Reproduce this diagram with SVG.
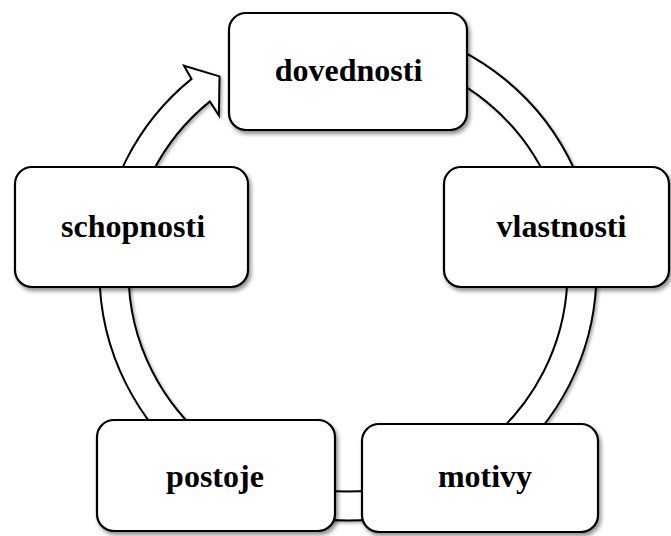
<svg xmlns="http://www.w3.org/2000/svg" width="671" height="536" viewBox="0 0 671 536">
  <defs>
    <filter id="shadow" x="-10%" y="-10%" width="125%" height="130%">
      <feGaussianBlur in="SourceAlpha" stdDeviation="2"/>
      <feOffset dx="2" dy="3" result="off"/>
      <feComponentTransfer><feFuncA type="linear" slope="0.45"/></feComponentTransfer>
      <feMerge><feMergeNode/><feMergeNode in="SourceGraphic"/></feMerge>
    </filter>
    <filter id="lineShadow" x="-10%" y="-10%" width="125%" height="125%">
      <feGaussianBlur in="SourceAlpha" stdDeviation="1.5"/>
      <feOffset dx="1.5" dy="2" result="off"/>
      <feComponentTransfer><feFuncA type="linear" slope="0.3"/></feComponentTransfer>
      <feMerge><feMergeNode/><feMergeNode in="SourceGraphic"/></feMerge>
    </filter>
    <style>
      .box { fill: #ffffff; stroke: #000000; stroke-width: 2.2; filter: url(#shadow); }
      .label { font-family: "Liberation Serif", "Times New Roman", serif; font-weight: bold; font-size: 32px; fill: #000000; text-anchor: middle; }
      .ring { fill: #ffffff; stroke: #000000; stroke-width: 2; stroke-linejoin: miter; filter: url(#lineShadow); }
    </style>
  </defs>
  <rect width="671" height="536" fill="#ffffff"/>

  <!-- circular band running clockwise behind the boxes, ending in an arrowhead -->
  <g id="connectors">
    <path class="ring" d="M 412.3 32.0 A 248.5 248.5 0 1 1 191.6 78.9 L 184 65.8 L 219.5 76.4 L 218.9 115.4 L 209.9 101.4 A 219.5 219.5 0 1 0 404.8 60.0 Z"/>
  </g>

  <g id="node-dovednosti">
    <rect class="box" x="229" y="13" width="238" height="117" rx="17" ry="17"/>
    <text class="label" x="348.5" y="81">dovednosti</text>
  </g>
  <g id="node-vlastnosti">
    <rect class="box" x="444" y="167" width="225" height="120" rx="17" ry="17"/>
    <text class="label" x="561.5" y="237">vlastnosti</text>
  </g>
  <g id="node-motivy">
    <rect class="box" x="362" y="424" width="236" height="108" rx="17" ry="17"/>
    <text class="label" x="485" y="487">motivy</text>
  </g>
  <g id="node-postoje">
    <rect class="box" x="97" y="420" width="238" height="111" rx="17" ry="17"/>
    <text class="label" x="215" y="487">postoje</text>
  </g>
  <g id="node-schopnosti">
    <rect class="box" x="15" y="167" width="233" height="120" rx="17" ry="17"/>
    <text class="label" x="133" y="237">schopnosti</text>
  </g>
</svg>
